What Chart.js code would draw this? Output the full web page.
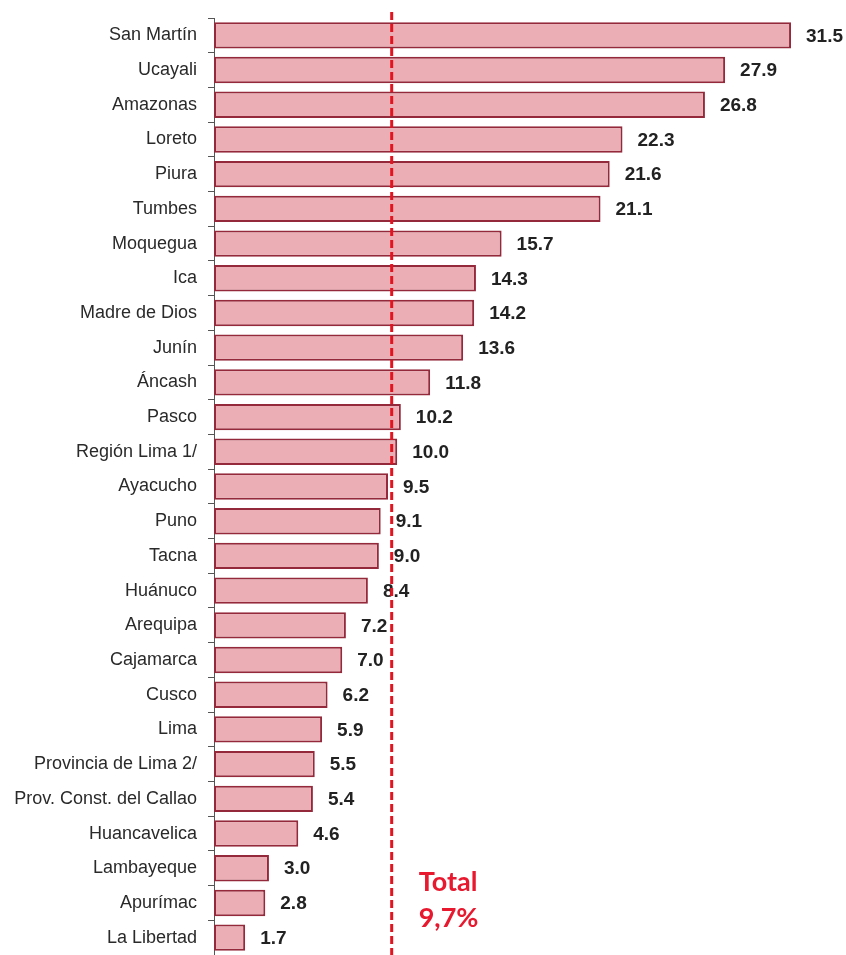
<!DOCTYPE html>
<html>
<head>
<meta charset="utf-8">
<script src="https://cdn.jsdelivr.net/npm/chart.js@4/dist/chart.umd.min.js"></script>
<style>
html,body{margin:0;padding:0;background:#ffffff;}
canvas{display:block;}
</style>
</head>
<body>
<canvas id="c" width="846" height="955"></canvas>
<script>
const regions = ["San Martín","Ucayali","Amazonas","Loreto","Piura","Tumbes","Moquegua","Ica","Madre de Dios","Junín","Áncash","Pasco","Región Lima 1/","Ayacucho","Puno","Tacna","Huánuco","Arequipa","Cajamarca","Cusco","Lima","Provincia de Lima 2/","Prov. Const. del Callao","Huancavelica","Lambayeque","Apurímac","La Libertad"];
const values = [31.5,27.9,26.8,22.3,21.6,21.1,15.7,14.3,14.2,13.6,11.8,10.2,10.0,9.5,9.1,9.0,8.4,7.2,7.0,6.2,5.9,5.5,5.4,4.6,3.0,2.8,1.7];
const totalValue = 9.7;
const totalText = ["Total","9,7%"];

const valueLabels = {
  id: 'valueLabels',
  afterDatasetsDraw(chart) {
    const ctx = chart.ctx;
    const meta = chart.getDatasetMeta(0);
    ctx.save();
    ctx.font = 'bold 19px "Liberation Sans", Arial, sans-serif';
    ctx.fillStyle = '#222222';
    ctx.textAlign = 'left';
    ctx.textBaseline = 'middle';
    meta.data.forEach((el, i) => {
      ctx.fillText(values[i].toFixed(1), el.x + 15, el.y + 1);
    });
    ctx.restore();
  }
};

const totalLine = {
  id: 'totalLine',
  afterDatasetsDraw(chart) {
    const ctx = chart.ctx;
    const x = chart.scales.x.getPixelForValue(totalValue);
    ctx.save();
    ctx.strokeStyle = '#e3141f';
    ctx.lineWidth = 3;
    ctx.setLineDash([8, 4]);
    ctx.beginPath();
    ctx.moveTo(x, chart.chartArea.top - 6);
    ctx.lineTo(x, chart.height);
    ctx.stroke();
    ctx.setLineDash([]);
    ctx.fillStyle = '#e8182e';
    ctx.font = 'bold 27px Lato, "Open Sans", sans-serif';
    ctx.textAlign = 'left';
    ctx.textBaseline = 'middle';
    ctx.fillText(totalText[0], x + 27, chart.height - 73);
    ctx.fillText(totalText[1], x + 27, chart.height - 37);
    ctx.restore();
  }
};

new Chart(document.getElementById('c'), {
  type: 'bar',
  data: {
    labels: regions,
    datasets: [{
      data: values,
      backgroundColor: '#eaaeb4',
      borderColor: '#93293b',
      borderWidth: 2,
      borderSkipped: false,
      barPercentage: 0.76,
      categoryPercentage: 1.0
    }]
  },
  options: {
    indexAxis: 'y',
    responsive: false,
    animation: false,
    devicePixelRatio: 1,
    layout: { padding: { top: 18, bottom: 0, left: 0, right: 0 } },
    plugins: { legend: { display: false }, tooltip: { enabled: false } },
    scales: {
      x: { display: false, min: 0, max: 34.5 },
      y: {
        afterFit(scale) { scale.width = 214; scale.paddingTop = 0; scale.paddingBottom = 0; },
        grid: { drawOnChartArea: false, drawTicks: true, tickLength: 6, color: '#555555', offset: true },
        border: { display: true, color: '#555555', width: 1 },
        ticks: {
          autoSkip: false,
          padding: 11,
          color: '#2a2a2a',
          font: { family: '"Liberation Sans", Arial, sans-serif', size: 18 }
        }
      }
    }
  },
  plugins: [valueLabels, totalLine]
});
</script>
</body>
</html>
